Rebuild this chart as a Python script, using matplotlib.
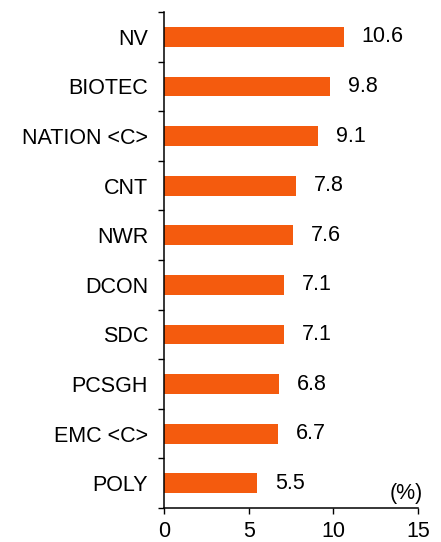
import matplotlib
matplotlib.use("Agg")
import matplotlib.pyplot as plt
import numpy as np

plt.rcParams['font.family'] = ['Liberation Sans', 'DejaVu Sans']

# data, top to bottom as shown
names = ["NV", "BIOTEC", "NATION <C>", "CNT", "NWR", "DCON", "SDC", "PCSGH", "EMC <C>", "POLY"]
values = [10.6, 9.8, 9.1, 7.8, 7.6, 7.1, 7.1, 6.8, 6.7, 5.5]
value_labels = ["10.6", "9.8", "9.1", "7.8", "7.6", "7.1", "7.1", "6.8", "6.7", "5.5"]
x_ticks = [0, 5, 10, 15]

fs = 15.5

fig = plt.figure(figsize=(4.41, 5.42), dpi=100)
ax = fig.add_axes([0.372, 0.0627, 0.576, 0.915])

ypos = np.arange(len(names))
ax.barh(ypos, values, height=0.4, color='#F45B0E', edgecolor='none')

for y, v, lab in zip(ypos, values, value_labels):
    ax.annotate(lab, (v, y), xytext=(13, 0), textcoords='offset points',
                va='center', ha='left', fontsize=fs)

ax.set_xlim(0, 15)
ax.set_ylim(len(names) - 0.5, -0.5)
ax.set_xticks(x_ticks)
ax.set_xticklabels([str(t) for t in x_ticks])

ax.set_yticks(ypos)
ax.set_yticklabels(names)
ax.set_yticks(np.arange(len(names) + 1) - 0.5, minor=True)

ax.tick_params(axis='y', which='major', length=0, pad=11.5, labelsize=fs)
ax.tick_params(axis='y', which='minor', length=4.5, width=1, direction='out')
ax.tick_params(axis='x', length=4, width=1, direction='out', pad=5, labelsize=fs)

for s in ['top', 'right']:
    ax.spines[s].set_visible(False)
for s in ['left', 'bottom']:
    ax.spines[s].set_linewidth(1.1)

ax.text(1.02, 0.03, "(%)", transform=ax.transAxes, ha='right', va='center', fontsize=fs)

fig.savefig("out.png", dpi=100)
